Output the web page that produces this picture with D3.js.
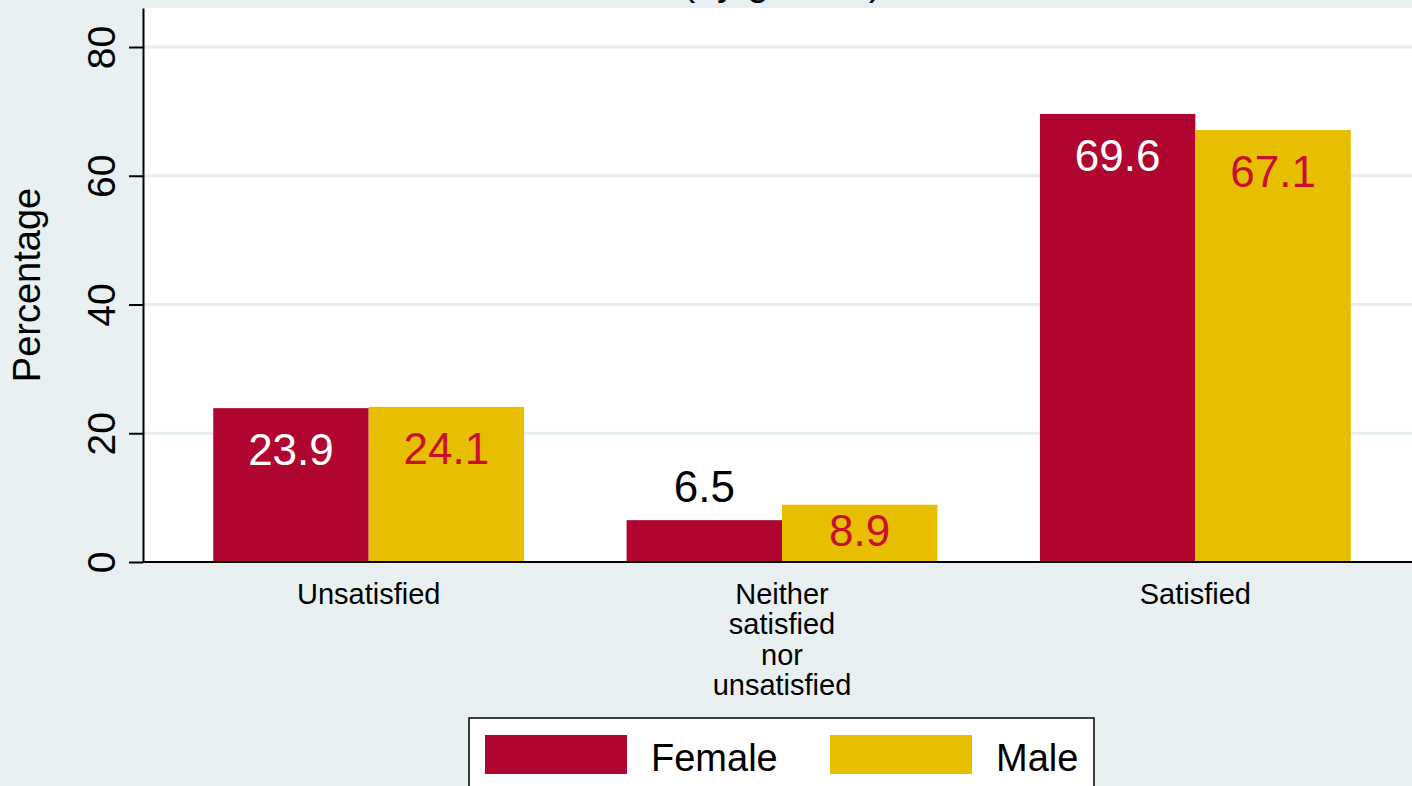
<!DOCTYPE html>
<html>
<head>
<meta charset="utf-8">
<script src="https://cdn.jsdelivr.net/npm/d3@7"></script>
<style>
  html, body { margin: 0; padding: 0; background: #e8f0f2; }
  svg { display: block; font-family: "Liberation Sans", Arial, sans-serif; }
</style>
</head>
<body>
<svg id="chart" width="1412" height="786"></svg>
<script>
// ---- data ----
const categories = ["Unsatisfied", "Neither satisfied nor unsatisfied", "Satisfied"];
const seriesNames = ["Female", "Male"];
const femaleValues = [23.9, 6.5, 69.6];
const maleValues = [24.1, 8.9, 67.1];
const yTicks = [0, 20, 40, 60, 80];
const titleText = "(by gender)";
const yAxisTitle = "Percentage";

// ---- style ----
const colors = { Female: "#b0052f", Male: "#e7bf00" };
const labelColors = { Female: "#ffffff", Male: "#c8102e" };
const bg = "#e8f0f2";

const W = 1412, H = 786;
const plot = { left: 143, top: 8, bottom: 562, right: 1412 };

const svg = d3.select("#chart");
svg.append("rect").attr("width", W).attr("height", H).attr("fill", bg);

// plot area
svg.append("rect")
  .attr("x", plot.left).attr("y", plot.top)
  .attr("width", plot.right - plot.left).attr("height", plot.bottom - plot.top)
  .attr("fill", "#ffffff");

const y = d3.scaleLinear().domain([0, 86.06]).range([plot.bottom, plot.top]);
const x0 = d3.scaleBand().domain(categories).range([162, 1402]).paddingInner(0.248).paddingOuter(0.124);
const x1 = d3.scaleBand().domain(seriesNames).range([0, x0.bandwidth()]);

// gridlines
svg.append("g").selectAll("line")
  .data(yTicks.filter(t => t > 0))
  .join("line")
  .attr("x1", plot.left).attr("x2", plot.right)
  .attr("y1", d => y(d)).attr("y2", d => y(d))
  .attr("stroke", "#e6eef1").attr("stroke-width", 3);

// bars
const rows = categories.map((c, i) => ({ cat: c, Female: femaleValues[i], Male: maleValues[i] }));
const groups = svg.append("g").selectAll("g")
  .data(rows).join("g")
  .attr("transform", d => `translate(${x0(d.cat)},0)`);

groups.selectAll("rect")
  .data(d => seriesNames.map(s => ({ s, v: d[s] })))
  .join("rect")
  .attr("x", d => x1(d.s))
  .attr("width", x1.bandwidth())
  .attr("y", d => y(d.v))
  .attr("height", d => y(0) - y(d.v))
  .attr("fill", d => colors[d.s]);

// value labels
const labelSize = 44;
groups.selectAll("text.val")
  .data(d => seriesNames.map(s => ({ s, v: d[s] })))
  .join("text")
  .attr("class", "val")
  .attr("x", d => x1(d.s) + x1.bandwidth() / 2)
  .attr("text-anchor", "middle")
  .attr("font-size", labelSize)
  .each(function(d) {
    const top = y(d.v), h = y(0) - y(d.v);
    const t = d3.select(this);
    if (h >= 60) {
      t.attr("y", top + 57).attr("fill", labelColors[d.s]);
    } else if (d.s === "Female") {
      t.attr("y", top - 18).attr("fill", "#000000");
    } else {
      t.attr("y", (top + y(0)) / 2 + 13).attr("fill", labelColors[d.s]);
    }
  })
  .text(d => d.v.toFixed(1));

// y axis
const yAxis = svg.append("g")
  .attr("transform", `translate(${plot.left},0)`)
  .call(d3.axisLeft(y).tickValues(yTicks).tickSize(14).tickSizeOuter(0).tickFormat(d3.format("d")));
yAxis.select(".domain").attr("stroke", "#000").attr("stroke-width", 2);
yAxis.selectAll(".tick line").attr("stroke", "#000").attr("stroke-width", 2);
yAxis.selectAll(".tick text")
  .attr("x", null).attr("dy", null)
  .attr("text-anchor", "middle")
  .attr("transform", "translate(-28,0) rotate(-90)")
  .attr("font-size", 39)
  .attr("font-family", "Liberation Sans, Arial, sans-serif")
  .attr("fill", "#000");

// x axis
const xAxis = svg.append("g")
  .attr("transform", `translate(0,${plot.bottom})`)
  .call(d3.axisBottom(x0).tickSize(0));
xAxis.select(".domain").remove();
xAxis.selectAll(".tick text").each(function(d) {
  const t = d3.select(this);
  t.text(null).attr("y", null).attr("dy", null)
    .attr("font-size", 29).attr("fill", "#000")
    .attr("font-family", "Liberation Sans, Arial, sans-serif");
  d.split(" ").forEach((w, i) => {
    t.append("tspan").attr("x", 0).attr("y", 42 + i * 30.3).text(w);
  });
});
svg.append("line")
  .attr("x1", plot.left - 1).attr("x2", plot.right)
  .attr("y1", plot.bottom).attr("y2", plot.bottom)
  .attr("stroke", "#000").attr("stroke-width", 2);

// y axis title
svg.append("text")
  .attr("transform", `translate(40,${(plot.top + plot.bottom) / 2}) rotate(-90)`)
  .attr("text-anchor", "middle")
  .attr("font-size", 38)
  .text(yAxisTitle);

// title (mostly cropped off the top)
svg.append("text")
  .attr("x", x0(categories[1]) + x0.bandwidth() / 2)
  .attr("y", -5)
  .attr("text-anchor", "middle")
  .attr("font-size", 39)
  .text(titleText);

// legend
const legend = svg.append("g");
legend.append("rect")
  .attr("x", 469).attr("y", 718).attr("width", 625).attr("height", 100)
  .attr("fill", "#fff").attr("stroke", "#000").attr("stroke-width", 1.5);
const legendX = { Female: 485, Male: 830 };
seriesNames.forEach(s => {
  legend.append("rect")
    .attr("x", legendX[s]).attr("y", 735).attr("width", 142).attr("height", 39)
    .attr("fill", colors[s]);
  legend.append("text")
    .attr("x", legendX[s] + 166).attr("y", 771)
    .attr("font-size", 38)
    .text(s);
});
</script>
</body>
</html>
